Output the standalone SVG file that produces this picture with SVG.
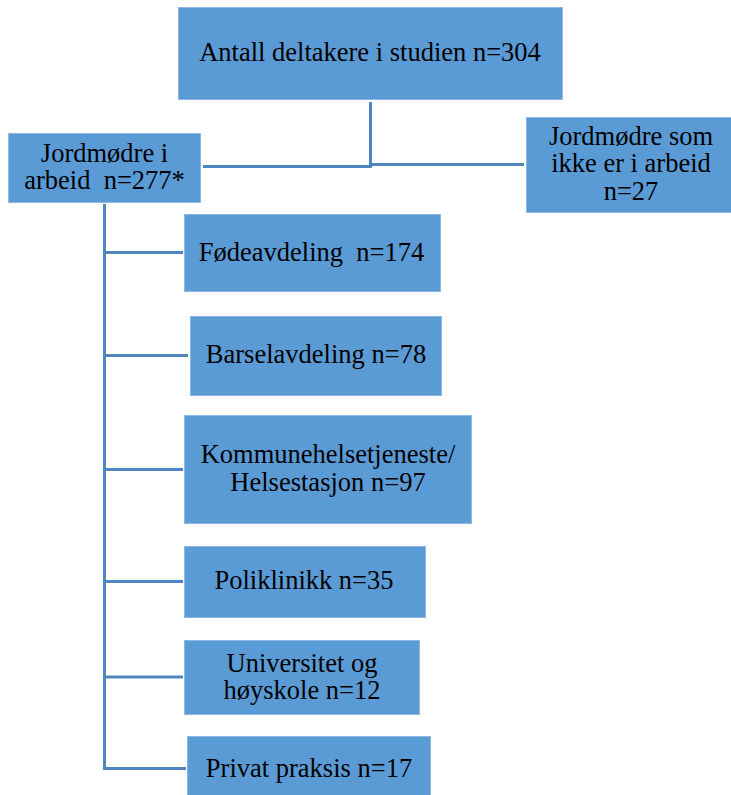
<svg xmlns="http://www.w3.org/2000/svg" width="731" height="795" viewBox="0 0 731 795">
<defs>
<style>
.box{fill:#5b9bd5;stroke:#8db8e3;stroke-width:1}
.c{fill:none;stroke:#4f86c0;stroke-width:3}
.t{font-family:"Liberation Serif","Times New Roman",serif;font-size:26.5px;fill:#000;text-anchor:middle}
</style>
</defs>
<rect width="731" height="795" fill="#fff"/>
<g id="connectors">
<path class="c" d="M370.5 102 V166.5 H203"/>
<path class="c" d="M370.5 164.5 H524"/>
<path class="c" d="M104.5 204 V768.5 H186"/>
<path class="c" d="M104.5 252.5 H183"/>
<path class="c" d="M104.5 355.5 H188"/>
<path class="c" d="M104.5 469.5 H183"/>
<path class="c" d="M104.5 581.5 H183"/>
<path class="c" d="M104.5 677 H183"/>
</g>
<g id="n-total"><rect class="box" x="178.5" y="7.5" width="384" height="92"/><text class="t" x="370" y="61">Antall deltakere i studien n=304</text></g>
<g id="n-arbeid"><rect class="box" x="8.5" y="133.5" width="192" height="69"/><text class="t" x="104.5" y="162">Jordmødre i</text><text class="t" x="104.5" y="189" xml:space="preserve">arbeid  n=277*</text></g>
<g id="n-ikke"><rect class="box" x="526.5" y="117.5" width="205" height="95"/><text class="t" x="631" y="145">Jordmødre som</text><text class="t" x="631" y="172">ikke er i arbeid</text><text class="t" x="631" y="200">n=27</text></g>
<g id="n-fode"><rect class="box" x="184.5" y="214.5" width="256" height="77"/><text class="t" x="311.5" y="261" xml:space="preserve">Fødeavdeling  n=174</text></g>
<g id="n-barsel"><rect class="box" x="190.5" y="316.5" width="251" height="79"/><text class="t" x="316" y="363">Barselavdeling n=78</text></g>
<g id="n-kommune"><rect class="box" x="184.5" y="415.5" width="287" height="108"/><text class="t" x="328" y="463">Kommunehelsetjeneste/</text><text class="t" x="328" y="491">Helsestasjon n=97</text></g>
<g id="n-poli"><rect class="box" x="184.5" y="546.5" width="241" height="71"/><text class="t" x="304" y="589">Poliklinikk n=35</text></g>
<g id="n-uni"><rect class="box" x="184.5" y="640.5" width="235" height="74"/><text class="t" x="302" y="672">Universitet og</text><text class="t" x="302" y="699">høyskole n=12</text></g>
<g id="n-privat"><rect class="box" x="187.5" y="736.5" width="243" height="62"/><text class="t" x="309" y="777">Privat praksis n=17</text></g>
</svg>
